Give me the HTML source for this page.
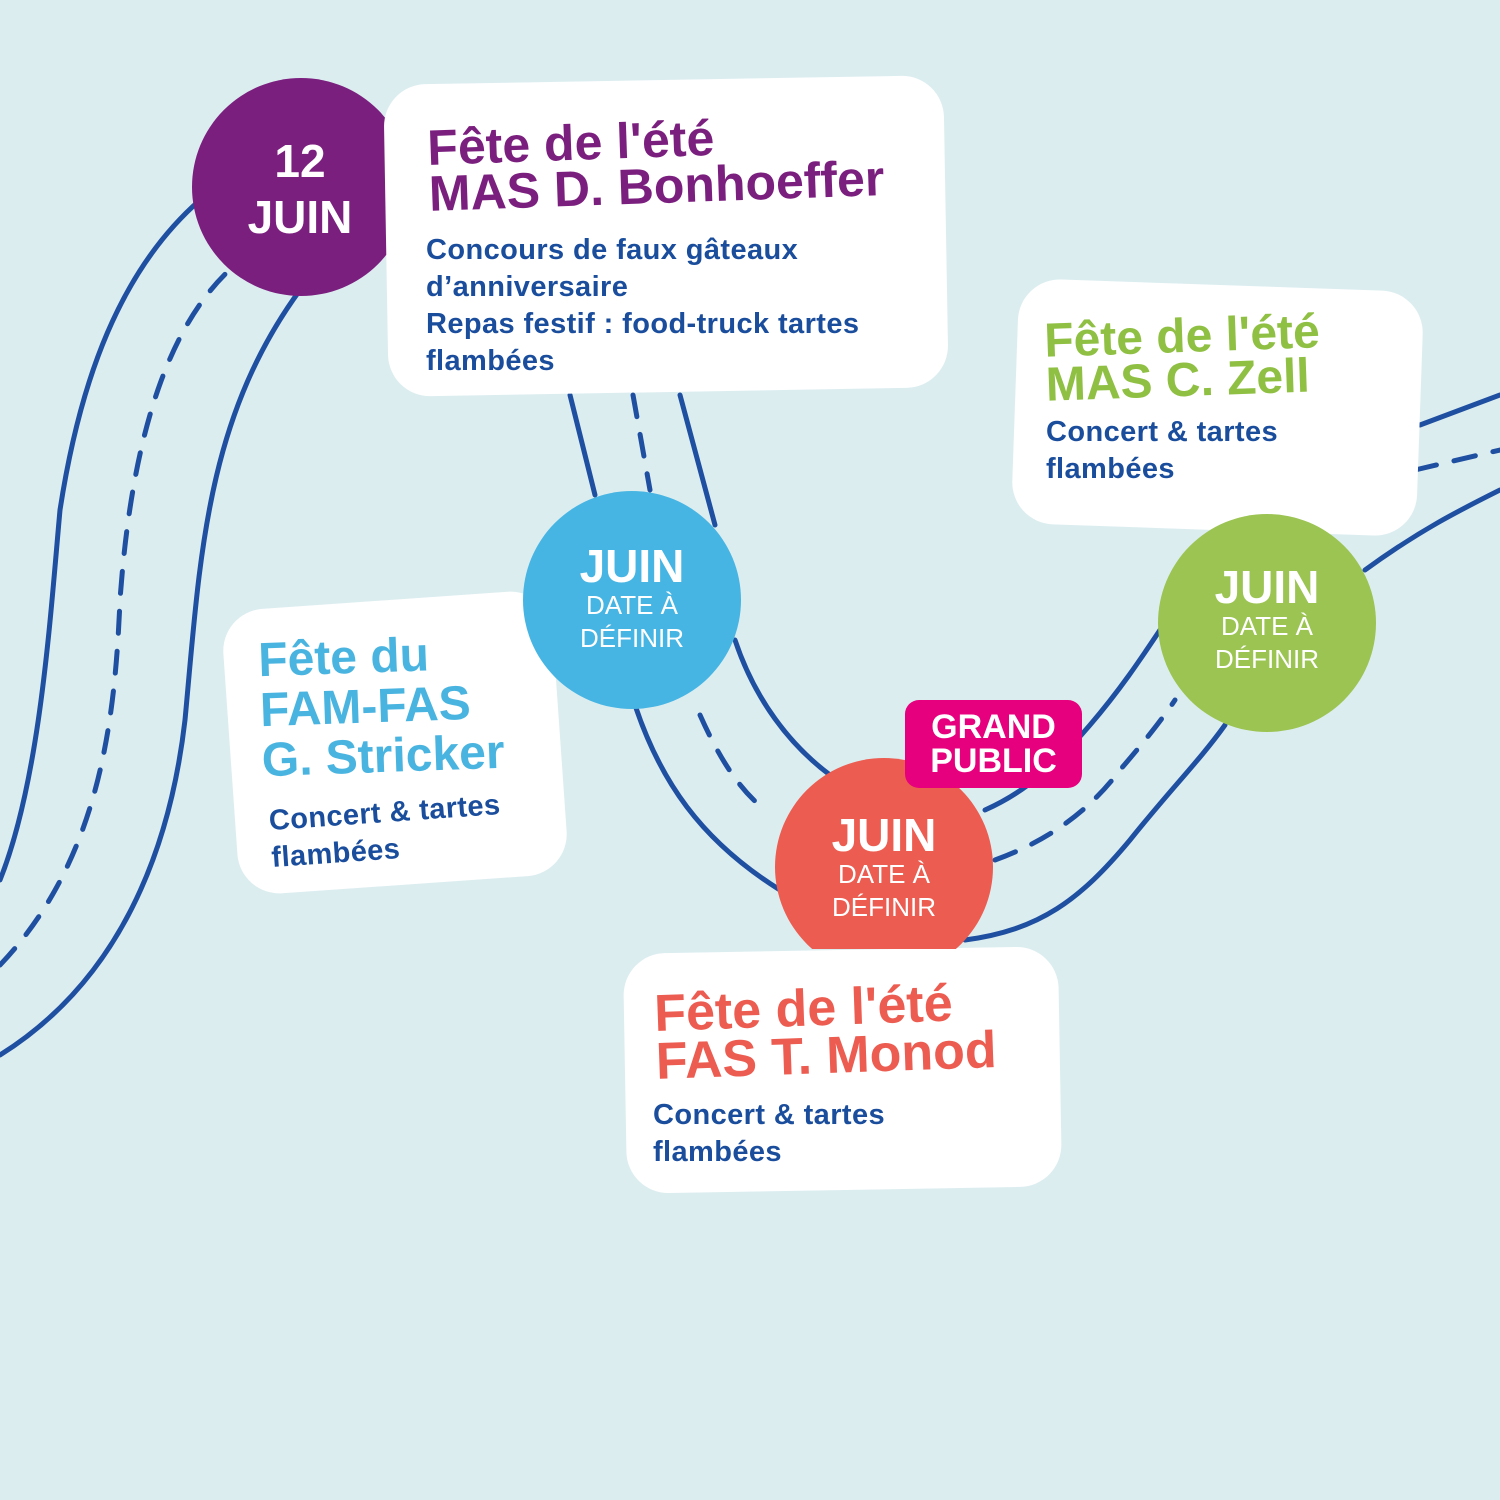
<!DOCTYPE html>
<html><head><meta charset="utf-8"><style>
body{margin:0;width:1500px;height:1500px;background:#dcedf0;position:relative;overflow:hidden;font-family:"Liberation Sans",sans-serif}
svg{position:absolute;left:0;top:0}
.card{position:absolute;background:#fff;border-radius:42px}
.h{position:absolute;font-family:"Liberation Sans Narrow","Liberation Sans",sans-serif;font-weight:bold;line-height:0.92;white-space:nowrap}
.t{position:absolute;color:#1a4d9c;font-weight:bold;font-size:29px;line-height:37px;letter-spacing:0.4px}
.c{position:absolute;border-radius:50%;color:#fff;text-align:center;font-weight:bold}
.c b{display:block;font-size:46px;line-height:46px}
.c span{display:block;font-weight:normal;font-size:26px;line-height:33px}
</style></head><body>
<svg width="1500" height="1500" fill="none" stroke="#1f4fa0" stroke-width="5" stroke-linecap="round">
<path d="M0 880 C40 780 50 620 60 510 C80 380 120 270 200 200"/>
<path d="M0 1055 C120 980 170 850 185 720 C200 560 205 420 300 290"/>
<path d="M0 965 C100 860 115 720 120 600 C130 460 160 330 235 265" stroke-dasharray="22 18"/>
<path d="M570 395 L595 495"/>
<path d="M635 705 C660 780 700 840 780 890"/>
<path d="M680 395 L715 525"/>
<path d="M735 640 C755 700 790 745 830 775"/>
<path d="M633 395 L650 490" stroke-dasharray="22 18"/>
<path d="M700 715 C720 760 740 790 765 810" stroke-dasharray="22 18"/>
<path d="M965 940 C1040 930 1080 900 1130 840 C1170 790 1200 760 1225 725"/>
<path d="M1365 570 C1420 530 1460 510 1500 490"/>
<path d="M995 860 C1050 840 1090 810 1120 770 C1150 735 1165 715 1175 700" stroke-dasharray="22 18"/>
<path d="M1415 470 L1500 450" stroke-dasharray="22 18"/>
<path d="M985 810 C1030 790 1060 760 1090 725 C1120 690 1140 660 1160 630"/>
<path d="M1420 425 L1500 395"/>
</svg>

<div class="c" style="left:192px;top:78px;width:218px;height:218px;background:#7b1f7f"><div style="padding-top:55px;font-size:46px;line-height:56px;margin-left:-2px">12<br>JUIN</div></div>
<div class="card" style="left:386px;top:80px;width:560px;height:312px;transform:rotate(-1deg)"></div>
<div class="h" style="left:428px;top:117px;font-size:50px;color:#7b1f7f;transform:rotate(-2deg)">Fête de l'été<br>MAS D. Bonhoeffer</div>
<div class="t" style="left:426px;top:232px">Concours de faux gâteaux<br>d’anniversaire<br>Repas festif : food-truck tartes<br>flambées</div>

<div class="card" style="left:1015px;top:285px;width:405px;height:245px;transform:rotate(2deg)"></div>
<div class="h" style="left:1045px;top:315px;font-size:48px;color:#8fc043;transform:rotate(-2deg)">Fête de l'été<br>MAS C. Zell</div>
<div class="t" style="left:1046px;top:414px">Concert &amp; tartes<br>flambées</div>

<div class="card" style="left:230px;top:600px;width:330px;height:285px;transform:rotate(-4deg)"></div>
<div class="h" style="left:260px;top:632px;font-size:48px;line-height:50px;color:#4ab4e0;transform:rotate(-2deg)">Fête du<br>FAM-FAS<br>G. Stricker</div>
<div class="t" style="left:270px;top:795px;transform:rotate(-4deg)">Concert &amp; tartes<br>flambées</div>

<div class="c" style="left:523px;top:491px;width:218px;height:218px;background:#47b5e3"><div style="padding-top:52px"><b>JUIN</b><span>DATE À<br>DÉFINIR</span></div></div>
<div class="c" style="left:1158px;top:514px;width:218px;height:218px;background:#9bc452"><div style="padding-top:50px"><b>JUIN</b><span>DATE À<br>DÉFINIR</span></div></div>

<div class="card" style="left:625px;top:950px;width:435px;height:240px;transform:rotate(-1deg)"></div>
<div class="c" style="left:775px;top:758px;width:218px;height:218px;background:#ec5c50;clip-path:inset(0 0 27px 0)"><div style="padding-top:54px"><b>JUIN</b><span>DATE À<br>DÉFINIR</span></div></div>
<div class="h" style="left:655px;top:985px;font-size:52px;color:#ec5c50;transform:rotate(-2deg)">Fête de l'été<br>FAS T. Monod</div>
<div class="t" style="left:653px;top:1097px">Concert &amp; tartes<br>flambées</div>

<div style="position:absolute;left:905px;top:700px;width:177px;height:88px;background:#e6007e;border-radius:14px;color:#fff;font-weight:bold;font-size:34px;line-height:34px;text-align:center;padding-top:10px;box-sizing:border-box">GRAND<br>PUBLIC</div>
</body></html>
